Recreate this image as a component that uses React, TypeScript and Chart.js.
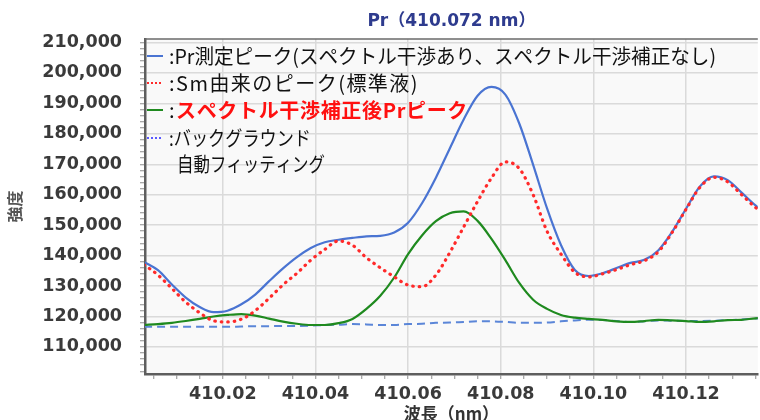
import { useEffect, useRef } from 'react';
import { Chart, registerables } from 'chart.js';

Chart.register(...registerables);

// ---- data ----
const wavelengths = [
  410.003, 410.006, 410.009, 410.012, 410.015, 410.018, 410.021, 410.024, 410.027, 410.030,
  410.033, 410.036, 410.039, 410.042, 410.045, 410.048, 410.051, 410.054, 410.057, 410.060,
  410.063, 410.066, 410.069, 410.072, 410.075, 410.078, 410.081, 410.084, 410.087, 410.090,
  410.093, 410.096, 410.099, 410.102, 410.105, 410.108, 410.111, 410.114, 410.117, 410.120,
  410.123, 410.126, 410.129, 410.132, 410.135, 410.138,
];

const prMeasured = [
  137900, 135200, 130500, 126200, 123100, 121400, 121900, 124000, 127200, 131600,
  135800, 139500, 142500, 144400, 145200, 145800, 146300, 146500, 147600, 150800,
  157200, 165600, 175200, 184700, 192500, 195400, 192900, 183400, 169800, 155500,
  143500, 135300, 133300, 134200, 135900, 137600, 138600, 141700, 147800, 155400,
  162700, 166000, 164800, 160700, 156500, 153000,
];

const smPeak = [
  137000, 133600, 129200, 124700, 121200, 118600, 118200, 119100, 121900, 126000,
  130400, 134200, 138500, 142000, 144800, 143400, 139300, 136000, 133000, 130300,
  129800, 133600, 141000, 149400, 157800, 165500, 170800, 168600, 160000, 148000,
  140500, 134500, 133000, 134000, 135400, 137000, 138300, 141200, 147600, 155200,
  162400, 165700, 164200, 160000, 155800, 152300,
];

const prCorrected = [
  117200, 117500, 117900, 118500, 119200, 120000, 120500, 120800, 120300, 119300,
  118300, 117600, 117200, 117200, 117800, 119200, 122500, 126800, 132800, 140500,
  146600, 151300, 153900, 154500, 151400, 145500, 138500, 131000, 125500, 122500,
  120500, 119600, 119200, 118900, 118400, 118200, 118500, 118900, 118700, 118500,
  118200, 118400, 118800, 118900, 119400, 119600,
];

const backgroundFit = [
  116600, 116600, 116600, 116600, 116600, 116600, 116600, 116700, 116800, 116800,
  116900, 116900, 117000, 117200, 117300, 117500, 117400, 117200, 117200, 117500,
  117600, 117900, 118000, 118200, 118400, 118400, 118200, 117900, 117900, 118000,
  118400, 118700, 118900, 118800, 118500, 118200, 118400, 118700, 118600, 118500,
  118500, 118600, 118800, 119000, 119300, 119500,
];

const seriesLabels = [
  'Pr測定ピーク(スペクトル干渉あり、スペクトル干渉補正なし)',
  'Sm由来のピーク(標準液)',
  'スペクトル干渉補正後Prピーク',
  'バックグラウンド',
];
const legendSecondLine = '自動フィッティング';
const chartTitle = 'Pr（410.072 nm）';
const xAxisTitle = '波長（nm）';
const yAxisTitle = '強度';

const X_MIN = 410.0032;
const X_MAX = 410.1355;
const X_MINOR_STEP_MILLI = 5; // 0.005 nm
const X_MAJOR_STEP_MILLI = 20; // 0.02 nm
const Y_MIN = 101100;
const Y_MAX = 211150;
const Y_MINOR_STEP = 2000;
const Y_MAJOR_STEP = 10000;

const isMajorX = (v: number) => Math.round(v * 1000) % X_MAJOR_STEP_MILLI === 0;
const isMajorY = (v: number) => Math.round(v) % Y_MAJOR_STEP === 0;

function drawFitted(ctx: CanvasRenderingContext2D, text: string, x: number, y: number, width: number) {
  const w = ctx.measureText(text).width;
  if (w > width) {
    ctx.fillText(text, x, y, width);
  } else {
    const n = Array.from(text).length;
    (ctx as any).letterSpacing = (width - w) / n + 'px';
    ctx.fillText(text, x, y);
    (ctx as any).letterSpacing = '0px';
  }
}

const plotFramePlugin = {
  id: 'plotFrame',
  beforeDraw(chart: any) {
    const { ctx, chartArea: a } = chart;
    ctx.save();
    ctx.fillStyle = '#ffffff';
    ctx.fillRect(0, 0, chart.width, chart.height);
    ctx.fillStyle = '#f9f9f9';
    ctx.fillRect(a.left, a.top, a.right - a.left, a.bottom - a.top);
    ctx.restore();
  },
  afterDraw(chart: any) {
    const { ctx, chartArea: a } = chart;
    ctx.save();
    ctx.strokeStyle = '#6a6a6a';
    ctx.lineWidth = 1.5;
    ctx.beginPath();
    ctx.moveTo(a.left, a.top);
    ctx.lineTo(a.right, a.top);
    ctx.stroke();
    ctx.restore();
  },
};

const inlineLegendPlugin = {
  id: 'inlineLegend',
  afterDatasetsDraw(chart: any) {
    const ctx: CanvasRenderingContext2D = chart.ctx;
    const ds = chart.data.datasets;
    const rows = [
      { i: 0, y: 56, w: 547 },
      { i: 1, y: 83, w: 250 },
      { i: 2, y: 110, w: 292 },
      { i: 3, y: 138, w: 142 },
    ];
    ctx.save();
    ctx.textBaseline = 'middle';
    ctx.textAlign = 'left';
    rows.forEach((r) => {
      const d = ds[r.i];
      ctx.save();
      ctx.strokeStyle = r.i === 3 ? '#5a5aff' : d.borderColor;
      ctx.lineWidth = 2;
      ctx.setLineDash(r.i === 1 || r.i === 3 ? [2, 2] : []);
      ctx.beginPath();
      ctx.moveTo(147, r.y);
      ctx.lineTo(163, r.y);
      ctx.stroke();
      ctx.restore();
      if (r.i === 2) {
        ctx.font = '20px "Noto Sans CJK JP"';
        ctx.fillStyle = '#111111';
        ctx.fillText(':', 169, r.y);
        ctx.font = 'bold 20px "Noto Sans CJK JP"';
        ctx.fillStyle = '#ff1010';
        drawFitted(ctx, d.label, 176, r.y, r.w);
      } else {
        ctx.font = '20px "Noto Sans CJK JP"';
        ctx.fillStyle = '#111111';
        drawFitted(ctx, ':' + d.label, 169, r.y, r.w);
      }
    });
    ctx.font = '20px "Noto Sans CJK JP"';
    ctx.fillStyle = '#111111';
    drawFitted(ctx, legendSecondLine, 177, 164, 148);
    ctx.restore();
  },
};

export default function App() {
  const canvasRef = useRef<HTMLCanvasElement | null>(null);

  useEffect(() => {
    document.body.style.margin = '0';
    const canvas = canvasRef.current;
    if (!canvas) return;
    const mk = (arr: number[]) => wavelengths.map((x, i) => ({ x, y: arr[i] }));

    const chart = new Chart(canvas, {
      type: 'line',
      data: {
        datasets: [
          {
            label: seriesLabels[0],
            data: mk(prMeasured),
            borderColor: '#4a74d2',
            borderWidth: 2.2,
            pointRadius: 0,
            cubicInterpolationMode: 'monotone',
            order: 1,
          },
          {
            label: seriesLabels[1],
            data: mk(smPeak),
            borderColor: '#ff2a2a',
            borderWidth: 3.2,
            borderDash: [0.5, 6],
            borderCapStyle: 'round',
            pointRadius: 0,
            cubicInterpolationMode: 'monotone',
            order: 0,
          },
          {
            label: seriesLabels[2],
            data: mk(prCorrected),
            borderColor: '#1f8a1f',
            borderWidth: 2.2,
            pointRadius: 0,
            cubicInterpolationMode: 'monotone',
            order: 2,
          },
          {
            label: seriesLabels[3],
            data: mk(backgroundFit),
            borderColor: '#5b86d8',
            borderWidth: 2,
            borderDash: [8, 5],
            pointRadius: 0,
            cubicInterpolationMode: 'monotone',
            order: 3,
          },
        ],
      },
      options: {
        animation: false,
        responsive: false,
        layout: { padding: 0 },
        plugins: {
          legend: { display: false },
          tooltip: { enabled: false },
          title: {
            display: true,
            text: chartTitle,
            fullSize: false,
            color: '#2e3b8e',
            font: { family: '"DejaVu Sans", "Noto Sans CJK JP"', size: 17, weight: 'bold', lineHeight: 1.2 },
            padding: { top: 11, bottom: 7.6 },
          },
        },
        scales: {
          x: {
            type: 'linear',
            min: X_MIN,
            max: X_MAX,
            afterFit: (s: any) => {
              s.height = 46;
            },
            afterBuildTicks: (s: any) => {
              const t: { value: number }[] = [];
              const k0 = Math.ceil((X_MIN * 1000) / X_MINOR_STEP_MILLI);
              const k1 = Math.floor((X_MAX * 1000) / X_MINOR_STEP_MILLI);
              for (let k = k0; k <= k1; k++) t.push({ value: (k * X_MINOR_STEP_MILLI) / 1000 });
              s.ticks = t;
            },
            ticks: {
              autoSkip: false,
              maxRotation: 0,
              padding: 4.5,
              color: '#3a3a3a',
              font: { family: '"DejaVu Sans"', size: 17.5, weight: 'bold', lineHeight: 1.2 },
              callback: (v: any) => (isMajorX(Number(v)) ? Number(v).toFixed(2) : ''),
            },
            grid: {
              color: (c: any) => (c.tick && isMajorX(c.tick.value) ? '#dadada' : 'rgba(0,0,0,0)'),
              lineWidth: 1.5,
              tickColor: '#8c8c8c',
              tickLength: 5,
              tickWidth: 1,
            },
            border: { display: true, color: '#5e5e5e', width: 2.5 },
            title: {
              display: true,
              text: xAxisTitle,
              color: '#333333',
              font: { family: '"Noto Sans CJK JP"', size: 17, weight: 'bold', lineHeight: 1.2 },
              padding: { top: 0, bottom: -4 },
            },
          },
          y: {
            type: 'linear',
            min: Y_MIN,
            max: Y_MAX,
            afterFit: (s: any) => {
              s.width = 145;
            },
            afterBuildTicks: (s: any) => {
              const t: { value: number }[] = [];
              const start = Math.ceil(Y_MIN / Y_MINOR_STEP) * Y_MINOR_STEP;
              for (let v = start; v <= Y_MAX; v += Y_MINOR_STEP) t.push({ value: v });
              s.ticks = t;
            },
            ticks: {
              autoSkip: false,
              padding: 18,
              color: '#3a3a3a',
              font: { family: '"DejaVu Sans"', size: 17.5, weight: 'bold', lineHeight: 1.2 },
              callback: (v: any) => (isMajorY(Number(v)) ? Number(v).toLocaleString('en-US') : ''),
            },
            grid: {
              color: (c: any) => (c.tick && isMajorY(c.tick.value) ? '#dadada' : 'rgba(0,0,0,0)'),
              lineWidth: 1.5,
              tickColor: '#8c8c8c',
              tickLength: 5,
              tickWidth: 1,
            },
            border: { display: true, color: '#5e5e5e', width: 2.5 },
            title: {
              display: true,
              text: yAxisTitle,
              color: '#555555',
              font: { family: '"Noto Sans CJK JP"', size: 16, weight: 'bold', lineHeight: 1.2 },
              padding: { top: 5, bottom: 0 },
            },
          },
        },
      },
      plugins: [plotFramePlugin, inlineLegendPlugin],
    } as any);

    return () => {
      chart.destroy();
    };
  }, []);

  return (
    <div style={{ width: 760, height: 420, position: 'relative' }}>
      <canvas ref={canvasRef} width={760} height={420} style={{ display: 'block', width: 760, height: 420 }} />
    </div>
  );
}
